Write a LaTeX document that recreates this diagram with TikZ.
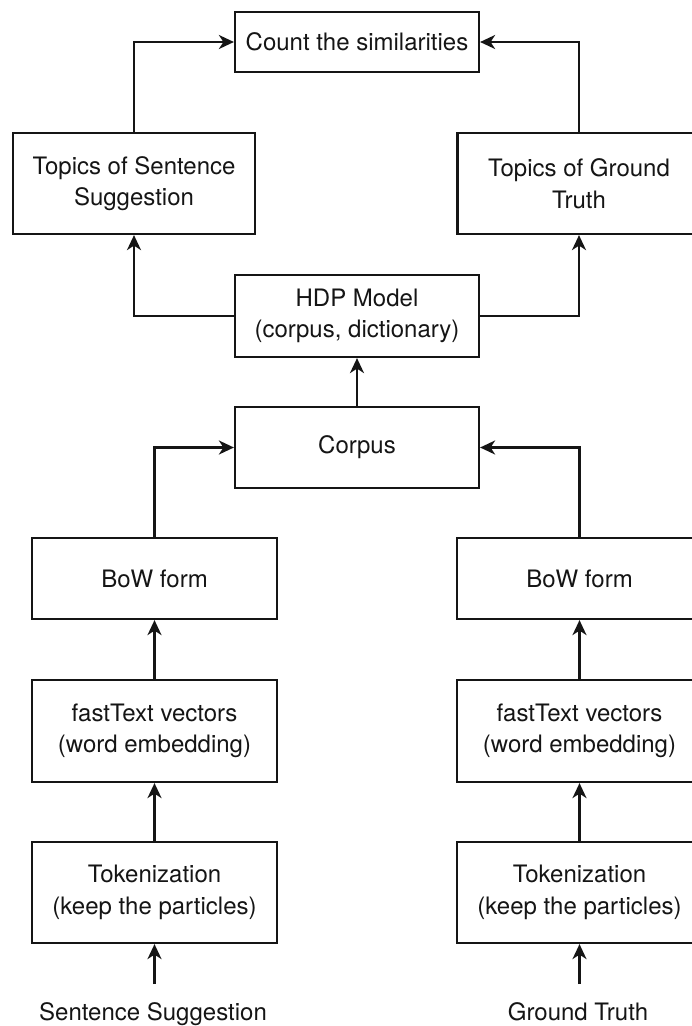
\documentclass[tikz,border=0pt]{standalone}
\usepackage{fontspec}
\setmainfont{TeX Gyre Heros}
\usetikzlibrary{arrows.meta}
\definecolor{ink}{HTML}{151515}
\begin{document}
\begin{tikzpicture}[x=1pt,y=-1pt,
  box/.style={draw=ink, line width=2.2pt, inner sep=0pt, align=center,
    text=ink, font=\fontsize{24}{31.5}\selectfont},
  lbl/.style={inner sep=0pt, text=ink, font=\fontsize{24}{31.5}\selectfont},
  flow/.style={draw=ink, line width=2.2pt,
    -{Stealth[length=15pt,width=14pt,inset=4.5pt]}}]
\useasboundingbox (0,0) rectangle (692,1026);
\clip (0,0) rectangle (692,1026);
\fill[white] (0,0) rectangle (692,1026);

% top of the pipeline
\node[box, minimum width=244pt, minimum height=60pt] (count) at (357,42) {Count the similarities};
\node[box, minimum width=242pt, minimum height=101pt] (topSS) at (134,183.5) {Topics of Sentence\\Suggestion};
\node[box, minimum width=243pt, minimum height=101pt] (topGT) at (579,183.5) {Topics of Ground\\Truth};
\node[box, minimum width=244pt, minimum height=82pt] (hdp) at (357,316) {HDP Model\\(corpus, dictionary)};
\node[box, minimum width=244pt, minimum height=81pt] (corpus) at (357,447.5) {Corpus};

% left column: sentence suggestion
\node[box, minimum width=245pt, minimum height=81pt] (bowL) at (154.5,578.5) {BoW form};
\node[box, minimum width=245pt, minimum height=102pt] (ftL) at (154.5,731) {fastText vectors\\(word embedding)};
\node[box, minimum width=245pt, minimum height=101pt] (tokL) at (154.5,892.5) {Tokenization\\(keep the particles)};
\node[lbl, anchor=base] (lblL) at (153,1020) {Sentence Suggestion};
\coordinate (inL) at (154.5,984);

% right column: ground truth (its boxes run past the right margin)
\node[box, minimum width=245pt, minimum height=81pt] (bowR) at (579.5,578.5) {BoW form};
\node[box, minimum width=245pt, minimum height=102pt] (ftR) at (579.5,731) {fastText vectors\\(word embedding)};
\node[box, minimum width=245pt, minimum height=101pt] (tokR) at (579.5,892.5) {Tokenization\\(keep the particles)};
\node[lbl, anchor=base] (lblR) at (578,1020) {Ground Truth};
\coordinate (inR) at (579.5,984);

% connectors
\draw[flow] (inL) -- (tokL);
\draw[flow] (tokL) -- (ftL);
\draw[flow] (ftL) -- (bowL);
\draw[flow] (inR) -- (tokR);
\draw[flow] (tokR) -- (ftR);
\draw[flow] (ftR) -- (bowR);
\draw[flow] (bowL.north) |- (corpus.west);
\draw[flow] (bowR.north) |- (corpus.east);
\draw[flow] (corpus) -- (hdp);
\draw[flow] (hdp.west) -| (topSS.south);
\draw[flow] (hdp.east) -| (topGT.south);
\draw[flow] (topSS.north) |- (count.west);
\draw[flow] (topGT.north) |- (count.east);
\end{tikzpicture}
\end{document}
